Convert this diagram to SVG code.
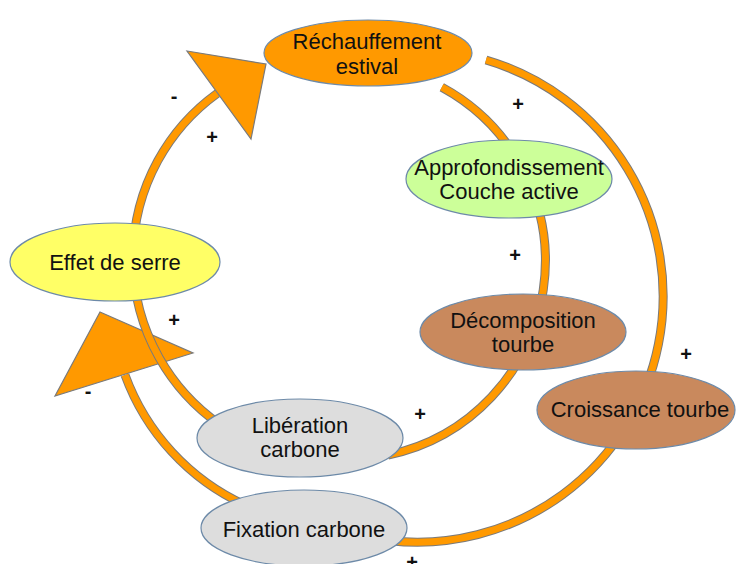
<svg xmlns="http://www.w3.org/2000/svg" width="736" height="564" viewBox="0 0 736 564">
<style>
.edge{fill:none;stroke:#7a7a7a;stroke-width:9}
.band{fill:none;stroke:#ff9900;stroke-width:7}
.head{fill:#ff9900;stroke:#7a7a7a;stroke-width:1.2;stroke-linejoin:miter}
.node{stroke:#6d8aa8;stroke-width:1.2}
.t{font-family:"Liberation Sans",Arial,sans-serif;font-size:22px;fill:#111;text-anchor:middle}
.s{font-family:"Liberation Sans",Arial,sans-serif;font-size:20px;font-weight:bold;fill:#111;text-anchor:middle}
</style>
<rect width="736" height="564" fill="#ffffff"/>
<g id="connectors">
  <path class="edge" d="M245,505 A230,230 0 0 1 125,375"/>
  <path class="band" d="M245,505 A230,230 0 0 1 125,375"/>
  <polygon class="head" points="100,312 193,353 55,396"/>
  <path class="edge" d="M219.6,424.3 A203,203 0 0 1 217.3,93.3"/>
  <path class="band" d="M219.6,424.3 A203,203 0 0 1 217.3,93.3"/>
  <polygon class="head" points="187,51 266,64 251,139"/>
  <path class="edge" d="M441.8,87.2 A198,198 0 0 1 388,455"/>
  <path class="band" d="M441.8,87.2 A198,198 0 0 1 388,455"/>
  <path class="edge" d="M486,60 A246,246 0 0 1 390.3,540.7"/>
  <path class="band" d="M486,60 A246,246 0 0 1 390.3,540.7"/>
</g>
<g id="rechauffement">
  <ellipse class="node" cx="368" cy="53" rx="104" ry="33" fill="#ff9900"/>
  <text class="t" x="367" y="49">Réchauffement</text>
  <text class="t" x="367" y="74">estival</text>
</g>
<g id="approfondissement">
  <ellipse class="node" cx="509" cy="179" rx="103" ry="39" fill="#ccff99"/>
  <text class="t" x="509" y="175">Approfondissement</text>
  <text class="t" x="509" y="199">Couche active</text>
</g>
<g id="decomposition">
  <ellipse class="node" cx="523" cy="332" rx="103" ry="38" fill="#c9895d"/>
  <text class="t" x="523" y="328">Décomposition</text>
  <text class="t" x="523" y="352">tourbe</text>
</g>
<g id="croissance">
  <ellipse class="node" cx="636" cy="410" rx="99" ry="39" fill="#c9895d"/>
  <text class="t" x="640" y="417">Croissance tourbe</text>
</g>
<g id="effet">
  <ellipse class="node" cx="115" cy="262" rx="105" ry="39" fill="#ffff66"/>
  <text class="t" x="115" y="270">Effet de serre</text>
</g>
<g id="liberation">
  <ellipse class="node" cx="300" cy="438" rx="103" ry="39" fill="#dddddd"/>
  <text class="t" x="300" y="433">Libération</text>
  <text class="t" x="300" y="457">carbone</text>
</g>
<g id="fixation">
  <ellipse class="node" cx="304" cy="528" rx="103" ry="38" fill="#dddddd"/>
  <text class="t" x="304" y="537">Fixation carbone</text>
</g>
<g id="signs">
  <text class="s" x="174" y="103">-</text>
  <text class="s" x="212" y="144">+</text>
  <text class="s" x="518" y="111">+</text>
  <text class="s" x="515" y="262">+</text>
  <text class="s" x="174" y="327">+</text>
  <text class="s" x="88" y="398">-</text>
  <text class="s" x="420" y="421">+</text>
  <text class="s" x="686" y="361">+</text>
  <text class="s" x="412" y="569">+</text>
</g>
</svg>
